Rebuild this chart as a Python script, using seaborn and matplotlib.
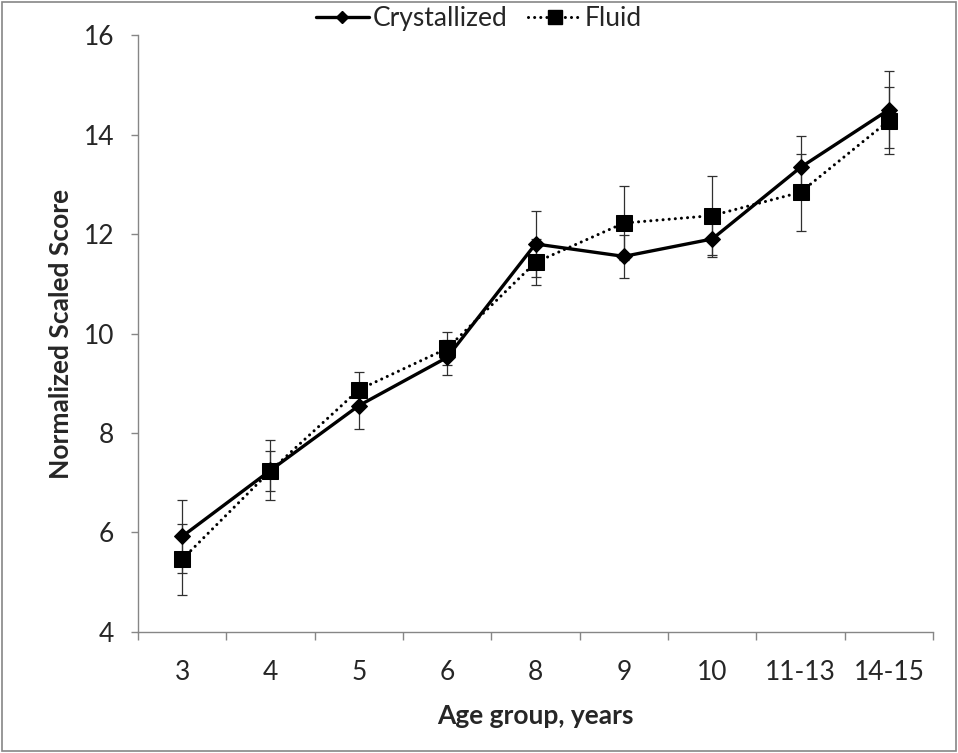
import matplotlib
matplotlib.use('Agg')
import matplotlib.pyplot as plt
from matplotlib.lines import Line2D
from matplotlib.patches import Rectangle
import seaborn as sns
import pandas as pd
import numpy as np

sns.set_style('white')
plt.rcParams['font.family'] = ['Lato', 'DejaVu Sans']

age_groups = ['3', '4', '5', '6', '8', '9', '10', '11-13', '14-15']
crystallized = [5.92, 7.25, 8.55, 9.52, 11.80, 11.55, 11.90, 13.34, 14.50]
crystallized_err = [0.74, 0.60, 0.46, 0.35, 0.67, 0.43, 0.37, 0.63, 0.77]
fluid = [5.46, 7.24, 8.87, 9.70, 11.43, 12.22, 12.37, 12.84, 14.28]
fluid_err = [0.72, 0.40, 0.36, 0.33, 0.46, 0.75, 0.80, 0.77, 0.68]

df = pd.DataFrame({
    'Age group, years': age_groups * 2,
    'Normalized Scaled Score': crystallized + fluid,
    'err': crystallized_err + fluid_err,
    'Ability': ['Crystallized'] * len(age_groups) + ['Fluid'] * len(age_groups),
})

fig = plt.figure(figsize=(9.58, 7.53), dpi=100)
ax = fig.add_axes([0.144, 0.1607, 0.83, 0.7928])

grey = '#868686'
dot_dash = (0, (0.01, 2.0))
fs = 19

# error bars first, so lines and markers sit on top
xpos = np.arange(len(age_groups))
for name, g in df.groupby('Ability'):
    ax.errorbar(xpos, g['Normalized Scaled Score'], yerr=g['err'],
                fmt='none', ecolor='#303030', elinewidth=0.9,
                capsize=3.6, capthick=0.9, zorder=2)

sns.lineplot(
    data=df[df['Ability'] == 'Fluid'],
    x='Age group, years', y='Normalized Scaled Score',
    color='black', lw=2.2, marker='s', markersize=11.5,
    markeredgecolor='black', ax=ax, zorder=3,
    sort=False, linestyle=dot_dash, dash_capstyle='round',
)
sns.lineplot(
    data=df[df['Ability'] == 'Crystallized'],
    x='Age group, years', y='Normalized Scaled Score',
    color='black', lw=2.4, marker='D', markersize=8.5,
    markeredgecolor='black', ax=ax, zorder=4, sort=False,
)

ax.set_xlim(-0.5, len(age_groups) - 0.5)
ax.set_ylim(4, 16)
ax.set_yticks(range(4, 17, 2))
ax.set_xticks(xpos)
ax.set_xticklabels(age_groups)
ax.set_xticks(np.arange(-0.5, len(age_groups), 1), minor=True)
ax.tick_params(axis='x', which='major', length=0, pad=20, labelsize=fs)
ax.tick_params(axis='x', which='minor', length=6, width=1, color=grey,
               direction='out', bottom=True)
ax.tick_params(axis='y', which='major', length=5, width=1, color=grey,
               direction='out', left=True, pad=12, labelsize=fs)

for side in ['top', 'right']:
    ax.spines[side].set_visible(False)
for side in ['left', 'bottom']:
    ax.spines[side].set_color(grey)
    ax.spines[side].set_linewidth(1)

ax.set_xlabel('Age group, years', fontsize=fs, fontweight='bold', labelpad=14)
ax.set_ylabel('Normalized Scaled Score', fontsize=fs, fontweight='bold', labelpad=8)

handles = [
    Line2D([], [], color='black', lw=2.4, marker='D', markersize=6.5),
    Line2D([], [], color='black', lw=2.2, marker='s', markersize=10,
           linestyle=dot_dash, dash_capstyle='round'),
]
fig.legend(handles, ['Crystallized', 'Fluid'], loc='center',
           bbox_to_anchor=(0.5, 0.975), ncol=2, frameon=False,
           fontsize=fs, handlelength=2.0, handletextpad=0.15,
           columnspacing=0.8, numpoints=1)

fig.patches.append(Rectangle((0.002, 0.002), 0.996, 0.996,
                             transform=fig.transFigure, fill=False,
                             edgecolor=grey, lw=1.2))

fig.savefig('out.png', dpi=100)
